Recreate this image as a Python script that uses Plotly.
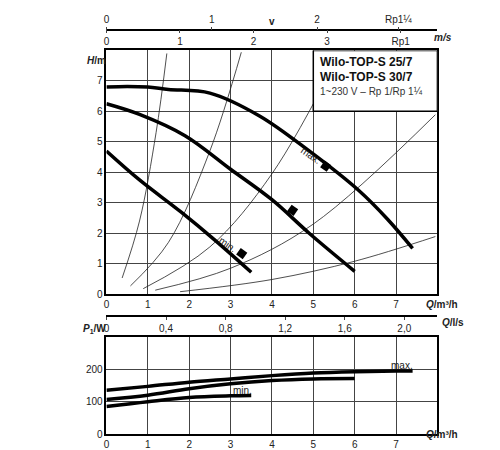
import plotly.graph_objects as go

# Pump curves H(Q)
q_max = [0, 0.5, 1.0, 1.5, 2.5, 3.7, 4.9, 6.1, 6.8, 7.4]
h_max = [6.8, 6.82, 6.8, 6.72, 6.6, 5.85, 4.7, 3.4, 2.45, 1.5]
q_mid = [0, 0.8, 1.9, 3.0, 4.0, 4.9, 6.0]
h_mid = [6.25, 5.9, 5.2, 4.1, 3.1, 2.0, 0.75]
q_min = [0, 0.8, 1.8, 2.6, 3.5]
h_min = [4.7, 3.75, 2.7, 1.8, 0.72]

# System curves (thin)
sys_curves = [
    ([0.38, 0.8, 1.2, 1.46], [0.53, 2.4, 5.3, 7.9]),
    ([0.58, 1.5, 2.5, 3.26], [0.27, 1.7, 4.7, 7.94]),
    ([0.89, 2.5, 4.0, 5.6], [0.18, 1.55, 3.95, 7.8]),
    ([1.18, 3.0, 5.0, 7.95], [0.13, 0.85, 2.3, 5.89]),
    ([1.78, 4.0, 6.0, 7.95], [0.08, 0.48, 1.08, 1.89]),
]

# Markers on curves
mark_q = [5.3, 4.5, 3.27]
mark_h = [4.2, 2.75, 1.33]

# Power curves P1(Q)
pq_max = [0, 1, 2, 3, 4, 5, 6, 7, 7.4]
p_max = [135, 147, 160, 170, 180, 188, 192, 194, 194]
pq_mid = [0, 1, 2, 3, 4, 5, 6]
p_mid = [107, 120, 140, 155, 165, 170, 171]
pq_min = [0, 1, 2, 3, 3.5]
p_min = [85, 100, 113, 118, 119]

q_ticks = [0, 1, 2, 3, 4, 5, 6, 7]
ls_ticks = [0, 0.4, 0.8, 1.2, 1.6, 2.0]
ls_text = ["0", "0,4", "0,8", "1,2", "1,6", "2,0"]
rp1_ticks = [0, 1, 2, 3, 4]
rp1_text = ["0", "1", "2", "3", "Rp1"]
rp114_ticks = [0, 1, 2, 2.77]
rp114_text = ["0", "1", "2", "Rp1¼"]

F = "Liberation Sans"
fig = go.Figure()
thin = dict(color="#222", width=0.8)
for qs, hs in sys_curves:
    fig.add_trace(go.Scatter(x=qs, y=hs, mode="lines", line=dict(shape="spline", **thin), xaxis="x", yaxis="y"))
for qs, hs in [(q_max, h_max), (q_mid, h_mid), (q_min, h_min)]:
    fig.add_trace(go.Scatter(x=qs, y=hs, mode="lines", line=dict(color="black", width=3.5, shape="spline"), xaxis="x", yaxis="y"))
fig.add_trace(go.Scatter(x=mark_q, y=mark_h, mode="markers", marker=dict(symbol="square", size=8, angle=35, color="black"), xaxis="x", yaxis="y"))
for qs, ps in [(pq_max, p_max), (pq_mid, p_mid), (pq_min, p_min)]:
    fig.add_trace(go.Scatter(x=qs, y=ps, mode="lines", line=dict(color="black", width=3.5, shape="spline"), xaxis="x2", yaxis="y2"))
# invisible traces to show secondary axes
for ax, rng in [("x3", ls_ticks), ("x4", rp1_ticks), ("x5", rp114_ticks)]:
    fig.add_trace(go.Scatter(x=[rng[0], rng[-1]], y=[0, 0], mode="markers", marker=dict(opacity=0),
                             xaxis=ax, yaxis="y3", hoverinfo="skip"))

W, H = 500, 450
xd = [96 / W, 429 / W]
tf = dict(family=F, size=10, color="#222")
base = dict(showline=True, linecolor="black", linewidth=1.5, mirror=True, ticks="", tickfont=tf,
            showgrid=True, gridcolor="#444", gridwidth=0.8, zeroline=False)
sec = dict(anchor="free", ticks="outside", ticklen=3, showgrid=False, zeroline=False, tickfont=tf,
           linecolor="black", linewidth=1.5)
fig.update_layout(
    width=W, height=H, margin=dict(l=0, r=0, t=0, b=0), showlegend=False,
    plot_bgcolor="white", paper_bgcolor="white",
    xaxis=dict(domain=xd, range=[0, 8], tickvals=q_ticks, anchor="y", **base),
    yaxis=dict(domain=[1 - 290 / H, 1 - 43 / H], range=[0, 8], tickvals=[0, 1, 2, 3, 4, 5, 6, 7], anchor="x", **base),
    yaxis3=dict(overlaying="y", range=[0, 8], visible=False),
    xaxis2=dict(domain=xd, range=[0, 8], tickvals=q_ticks, anchor="y2", **base),
    yaxis2=dict(domain=[1 - 432 / H, 1 - 333 / H], range=[0, 300], tickvals=[0, 100, 200], anchor="x2", **base),
    xaxis3=dict(overlaying="x", position=1 - 312 / H, side="bottom", range=[0, 8 / 3.6],
                tickvals=ls_ticks, ticktext=ls_text, showline=True, **sec),
    xaxis4=dict(overlaying="x", position=1 - 22 / H, side="bottom", range=[0, 333 / 74],
                tickvals=rp1_ticks, ticktext=rp1_text, showline=True, **sec),
    xaxis5=dict(overlaying="x", position=1 - 22 / H, side="top", range=[0, 333 / 106],
                tickvals=rp114_ticks, ticktext=rp114_text, showline=False, **sec),
)
fig.add_shape(type="rect", xref="x", yref="y", x0=5, x1=8, y0=6, y1=8, fillcolor="white",
              line=dict(color="black", width=1.5), layer="above")
ann = [
    dict(x=5.12, y=7.62, xref="x", yref="y", text="<b>Wilo-TOP-S 25/7</b>", font=dict(family=F, size=12, color="#111"), xanchor="left"),
    dict(x=5.12, y=7.12, xref="x", yref="y", text="<b>Wilo-TOP-S 30/7</b>", font=dict(family=F, size=12, color="#111"), xanchor="left"),
    dict(x=5.12, y=6.65, xref="x", yref="y", text="1~230 V – Rp 1/Rp 1¼", font=dict(family=F, size=10, color="#333"), xanchor="left"),
    dict(x=4.95, y=4.55, xref="x", yref="y", text="max.", textangle=35, font=tf),
    dict(x=2.93, y=1.62, xref="x", yref="y", text="min.", textangle=35, font=tf),
    dict(x=7.15, y=212, xref="x2", yref="y2", text="max.", font=tf),
    dict(x=3.3, y=133, xref="x2", yref="y2", text="min.", font=tf),
    dict(x=74 / W, y=1 - 46 / H, xref="paper", yref="paper", text="<b><i>H</i>/m</b>", font=tf),
    dict(x=70 / W, y=1 - 333 / H, xref="paper", yref="paper", text="<b><i>P</i><sub>1</sub>/W</b>", font=tf),
    dict(x=452 / W, y=1 - 300 / H, xref="paper", yref="paper", text="<b><i>Q</i>/m³/h</b>", font=tf),
    dict(x=458 / W, y=1 - 326 / H, xref="paper", yref="paper", text="<b><i>Q</i>/l/s</b>", font=tf),
    dict(x=452 / W, y=1 - 440 / H, xref="paper", yref="paper", text="<b><i>Q</i>/m³/h</b>", font=tf),
    dict(x=446 / W, y=1 - 22 / H, xref="paper", yref="paper", text="<b><i>m/s</i></b>", font=tf),
    dict(x=263 / W, y=1 - 6 / H, xref="paper", yref="paper", text="<b>v</b>", font=tf),
]
for a in ann:
    a.setdefault("showarrow", False)
    fig.add_annotation(**a)
fig.write_html("out.html")
